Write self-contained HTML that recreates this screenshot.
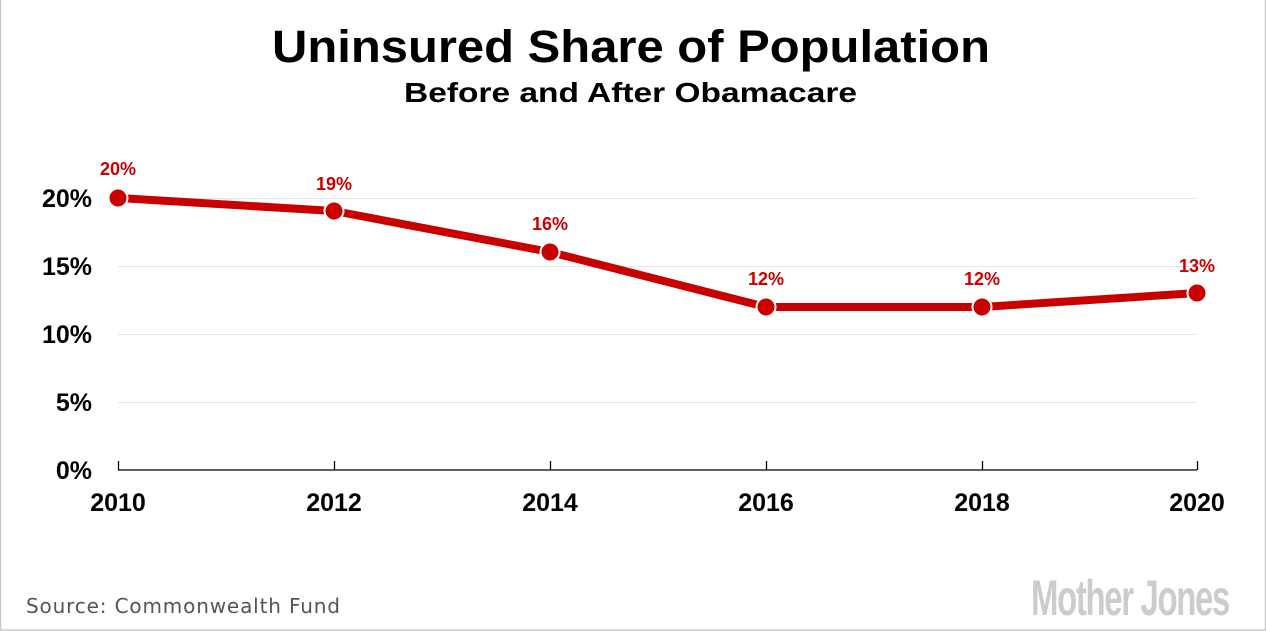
<!DOCTYPE html>
<html><head><meta charset="utf-8"><style>
html,body{margin:0;padding:0;background:#fff}
svg{display:block}
</style></head><body>
<svg width="1266" height="631" viewBox="0 0 1266 631" xmlns="http://www.w3.org/2000/svg" font-family="Liberation Sans, sans-serif">
<rect x="0.5" y="-1" width="1265" height="631" fill="#fff" stroke="#c8c8c8" stroke-width="1.5"/>
<text x="272" y="62" font-size="45" font-weight="bold" fill="#000" textLength="718" lengthAdjust="spacingAndGlyphs">Uninsured Share of Population</text>
<text x="404" y="102" font-size="28" font-weight="bold" fill="#000" textLength="453" lengthAdjust="spacingAndGlyphs">Before and After Obamacare</text>
<g stroke="#e6e6e6" stroke-width="1">
<line x1="118" x2="1197" y1="198.5" y2="198.5"/>
<line x1="118" x2="1197" y1="266.5" y2="266.5"/>
<line x1="118" x2="1197" y1="334.5" y2="334.5"/>
<line x1="118" x2="1197" y1="402.5" y2="402.5"/>
</g>
<g stroke="#000" stroke-width="1.3">
<line x1="118" x2="1197" y1="470" y2="470"/>
<line x1="118.5" x2="118.5" y1="461" y2="470"/>
<line x1="334.5" x2="334.5" y1="461" y2="470"/>
<line x1="550.5" x2="550.5" y1="461" y2="470"/>
<line x1="766.5" x2="766.5" y1="461" y2="470"/>
<line x1="982.5" x2="982.5" y1="461" y2="470"/>
<line x1="1197.5" x2="1197.5" y1="461" y2="470"/>
</g>
<g font-size="25" font-weight="bold" fill="#000" text-anchor="end">
<text x="92" y="207">20%</text>
<text x="92" y="275">15%</text>
<text x="92" y="343">10%</text>
<text x="92" y="411">5%</text>
<text x="92" y="479">0%</text>
</g>
<g font-size="25" font-weight="bold" fill="#000" text-anchor="middle">
<text x="118" y="511">2010</text>
<text x="334" y="511">2012</text>
<text x="550" y="511">2014</text>
<text x="766" y="511">2016</text>
<text x="982" y="511">2018</text>
<text x="1197" y="511">2020</text>
</g>
<polyline points="118,198 334,211 550,252 766,307 982,307 1197,293" fill="none" stroke="#c80000" stroke-width="8" stroke-linejoin="round"/>
<g fill="#c80000" stroke="#fff" stroke-width="2">
<circle cx="118" cy="198" r="9.5"/><circle cx="334" cy="211" r="9.5"/><circle cx="550" cy="252" r="9.5"/>
<circle cx="766" cy="307" r="9.5"/><circle cx="982" cy="307" r="9.5"/><circle cx="1197" cy="293" r="9.5"/>
</g>
<g font-size="18" font-weight="bold" fill="#c80000" text-anchor="middle">
<text x="118" y="175">20%</text><text x="334" y="190">19%</text><text x="550" y="230">16%</text>
<text x="766" y="285">12%</text><text x="982" y="285">12%</text><text x="1197" y="272">13%</text>
</g>
<text x="26" y="613" font-size="20" fill="#555" font-family="DejaVu Sans, sans-serif" textLength="314" lengthAdjust="spacing">Source: Commonwealth Fund</text>
<text x="1031" y="615" font-size="50" font-weight="bold" fill="#cccccc" textLength="198" lengthAdjust="spacingAndGlyphs" letter-spacing="-2">Mother Jones</text>
</svg>
</body></html>
